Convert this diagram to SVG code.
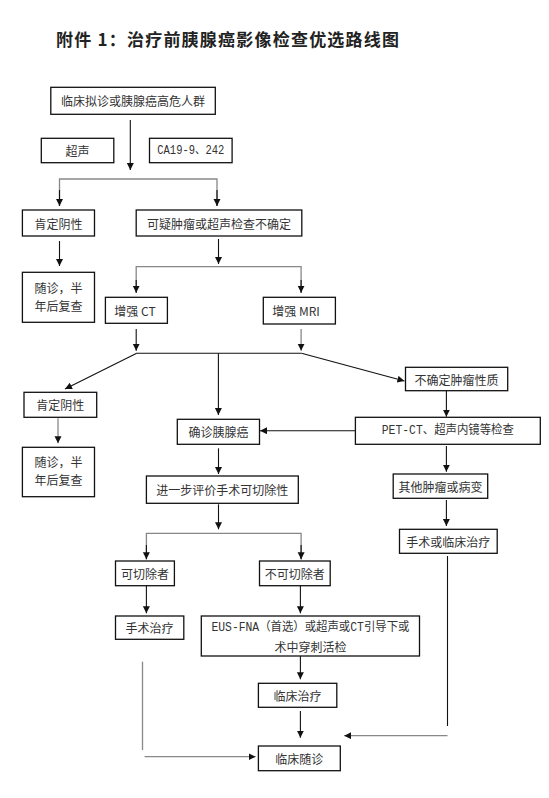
<svg xmlns="http://www.w3.org/2000/svg" width="549" height="798" viewBox="0 0 549 798">
<style>
.bg{fill:#ffffff}
.box{fill:#ffffff;stroke:#111;stroke-width:1.3}
.t{font-family:"Noto Sans CJK SC","Liberation Sans",sans-serif;font-size:12px;fill:#333;text-anchor:middle;dominant-baseline:central}
.m{font-family:"Liberation Mono","Noto Sans CJK SC",monospace;font-size:12px;fill:#333;text-anchor:middle;dominant-baseline:central}
.title{font-family:"Noto Sans CJK SC","Liberation Sans",sans-serif;font-size:17px;font-weight:700;fill:#222;dominant-baseline:central}
.ln{fill:none;stroke:#111;stroke-width:1.1}
.gr{fill:none;stroke:#888;stroke-width:1.3}
.ar{marker-end:url(#arr)}
</style>
<defs>
<marker id="arr" markerUnits="userSpaceOnUse" markerWidth="8" markerHeight="8" refX="7" refY="3.5" orient="auto">
<path d="M0,0 L7,3.5 L0,7 z" fill="#111"/>
</marker>
</defs>
<rect class="bg" x="0" y="0" width="549" height="798"/>
<text class="title" x="56" y="38.5" textLength="343" lengthAdjust="spacing">附件 1：治疗前胰腺癌影像检查优选路线图</text>

<g id="connectors">
<line class="ln ar" x1="130.3" y1="120" x2="130.3" y2="170"/>
<polyline class="gr" points="59.5,206 59.5,179 217,179 217,206"/>
<line class="ln ar" x1="59.5" y1="190" x2="59.5" y2="206"/>
<line class="ln ar" x1="217" y1="190" x2="217" y2="206"/>
<line class="ln ar" x1="59.5" y1="241" x2="59.5" y2="266"/>
<line class="ln ar" x1="218.5" y1="239" x2="218.5" y2="264"/>
<polyline class="gr" points="136.2,292.7 136.2,266.7 301.1,266.7 301.1,292.7"/>
<line class="ln ar" x1="136.2" y1="280" x2="136.2" y2="292.7"/>
<line class="ln ar" x1="301.1" y1="280" x2="301.1" y2="292.7"/>
<line class="ln ar" x1="136.2" y1="329" x2="136.2" y2="350.7"/>
<line class="gr ar" x1="301.1" y1="329" x2="301.1" y2="350.7"/>
<line class="ln" x1="136.5" y1="353.3" x2="301.5" y2="353.3"/>
<line class="ln ar" x1="136.7" y1="353.3" x2="65" y2="389"/>
<line class="ln ar" x1="218.4" y1="353.3" x2="218.4" y2="415"/>
<line class="ln ar" x1="301.5" y1="353.3" x2="404.4" y2="381"/>
<line class="ln ar" x1="446.4" y1="390.7" x2="446.4" y2="416.7"/>
<line class="ln ar" x1="355.4" y1="430.7" x2="260" y2="430.7"/>
<line class="gr ar" x1="58" y1="418.3" x2="58" y2="443.3"/>
<line class="ln ar" x1="218.5" y1="448.3" x2="218.5" y2="474"/>
<line class="ln ar" x1="446.4" y1="446" x2="446.4" y2="471.7"/>
<line class="ln ar" x1="446.4" y1="500" x2="446.4" y2="526"/>
<line class="ln ar" x1="218.5" y1="504.3" x2="218.5" y2="529.3"/>
<polyline class="gr" points="146.4,559.3 146.4,533.3 301.1,533.3 301.1,559.3"/>
<line class="ln ar" x1="146.4" y1="545" x2="146.4" y2="559.3"/>
<line class="ln ar" x1="301.1" y1="545" x2="301.1" y2="559.3"/>
<line class="ln ar" x1="146.4" y1="586" x2="146.4" y2="613.3"/>
<line class="ln ar" x1="300.4" y1="586" x2="300.4" y2="613.3"/>
<line class="gr" x1="142.5" y1="661.7" x2="142.5" y2="750"/>
<line class="gr ar" x1="144.6" y1="756.7" x2="255.6" y2="756.7"/>
<line class="ln ar" x1="300.4" y1="656" x2="300.4" y2="679.3"/>
<line class="ln ar" x1="300.4" y1="711" x2="300.4" y2="737.7"/>
<line class="ln" x1="447.5" y1="556" x2="447.5" y2="726"/>
<line class="gr ar" x1="447.5" y1="735.7" x2="344.2" y2="735.7"/>
</g>

<g id="n-start"><rect class="box" x="50.8" y="87.3" width="164.5" height="27"/><text class="t" x="133" y="100.8">临床拟诊或胰腺癌高危人群</text></g>
<g id="n-us"><rect class="box" x="41.3" y="138.3" width="72.5" height="24.4"/><text class="t" x="77.5" y="150.5">超声</text></g>
<g id="n-ca"><rect class="box" x="149.5" y="138.3" width="82.6" height="24.4"/><text class="m" x="190.8" y="150.5" textLength="67" lengthAdjust="spacingAndGlyphs">CA19-9、242</text></g>
<g id="n-neg1"><rect class="box" x="22.4" y="210" width="72.1" height="26"/><text class="t" x="58.5" y="223">肯定阴性</text></g>
<g id="n-susp"><rect class="box" x="136.2" y="210" width="165.6" height="26"/><text class="t" x="219" y="223">可疑肿瘤或超声检查不确定</text></g>
<g id="n-fu1"><rect class="box" x="22.4" y="272.3" width="72.1" height="50"/><text class="t" x="58.5" y="287.3">随诊，半</text><text class="t" x="58.5" y="305">年后复查</text></g>
<g id="n-ct"><rect class="box" x="105.4" y="297.3" width="62" height="26"/><text class="t" x="135" y="310.3">增强 CT</text></g>
<g id="n-mri"><rect class="box" x="263.3" y="297.3" width="72.1" height="26.7"/><text class="t" x="296" y="310.5">增强 MRI</text></g>
<g id="n-unc"><rect class="box" x="405.5" y="367.3" width="102.2" height="23.4"/><text class="t" x="456.6" y="379">不确定肿瘤性质</text></g>
<g id="n-neg2"><rect class="box" x="24" y="392.3" width="72.7" height="25"/><text class="t" x="60.3" y="404.8">肯定阴性</text></g>
<g id="n-conf"><rect class="box" x="177.3" y="419.3" width="82.2" height="25"/><text class="t" x="218.4" y="431.8">确诊胰腺癌</text></g>
<g id="n-pet"><rect class="box" x="355.4" y="417.3" width="184.9" height="27"/><text class="m" x="447.8" y="430.8" textLength="132" lengthAdjust="spacingAndGlyphs">PET-CT、超声内镜等检查</text></g>
<g id="n-fu2"><rect class="box" x="22.4" y="447.3" width="72.1" height="49.4"/><text class="t" x="58.5" y="461">随诊，半</text><text class="t" x="58.5" y="479">年后复查</text></g>
<g id="n-eval"><rect class="box" x="146.4" y="476" width="151.9" height="27.3"/><text class="t" x="222.3" y="489.6">进一步评价手术可切除性</text></g>
<g id="n-other"><rect class="box" x="393.2" y="474" width="94.5" height="24.3"/><text class="t" x="440.4" y="486.2">其他肿瘤或病变</text></g>
<g id="n-optx"><rect class="box" x="399.5" y="529.3" width="97.7" height="24"/><text class="t" x="448.3" y="541.3">手术或临床治疗</text></g>
<g id="n-res"><rect class="box" x="115.5" y="561" width="58.9" height="24.7"/><text class="t" x="145" y="573.3">可切除者</text></g>
<g id="n-unres"><rect class="box" x="259.5" y="561" width="70.7" height="24.7"/><text class="t" x="294.8" y="573.3">不可切除者</text></g>
<g id="n-surg"><rect class="box" x="115.5" y="616" width="68.3" height="23.3"/><text class="t" x="149.6" y="627.6">手术治疗</text></g>
<g id="n-eus"><rect class="box" x="201.3" y="616" width="218.2" height="40"/><text class="m" x="310.4" y="628.3" textLength="198" lengthAdjust="spacingAndGlyphs">EUS-FNA（首选）或超声或CT引导下或</text><text class="t" x="310.4" y="646">术中穿刺活检</text></g>
<g id="n-ctx"><rect class="box" x="258.4" y="683.3" width="78.4" height="24"/><text class="t" x="297.6" y="695.3">临床治疗</text></g>
<g id="n-cfu"><rect class="box" x="258.4" y="746" width="81.9" height="24.7"/><text class="t" x="299.3" y="758.3">临床随诊</text></g>
</svg>
